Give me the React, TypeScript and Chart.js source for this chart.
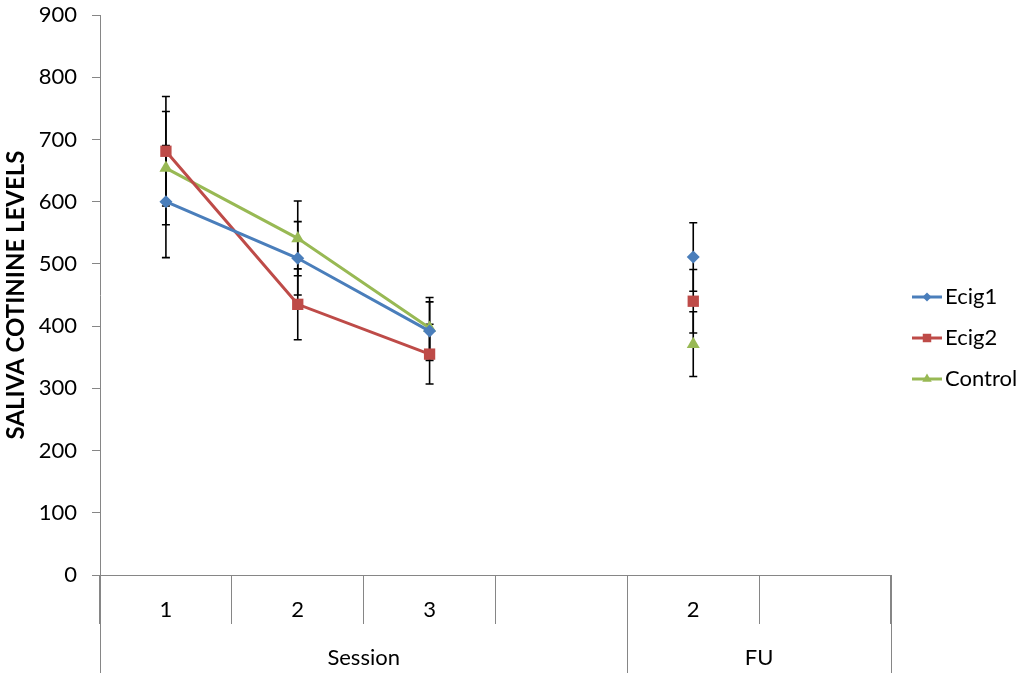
import { useEffect, useRef } from "react";
import { Chart, registerables } from "chart.js";
import { drawPoint } from "chart.js/helpers";

Chart.register(...registerables);

const CATEGORIES = ["1", "2", "3", "", "2", ""];
const GROUP_LABELS = ["Session", "FU"];
const GROUP_SIZES = [4, 2];

const SERIES = ["Ecig1", "Ecig2", "Control"];
const ECIG1 = [600, 509, 392, null, 511, null];
const ECIG2 = [681, 435, 355, null, 440, null];
const CONTROL = [654, 541, 397, null, 371, null];
const ECIG1_ERR = [90, 59, 47, null, 55, null];
const ECIG2_ERR = [88, 57, 48, null, 51, null];
const CONTROL_ERR = [91, 60, 49, null, 52, null];

const COLORS = ["#4A7EBB", "#BE4B48", "#98B954"];
const POINT_STYLES = ["rectRot", "rect", "triangle"] as const;
const POINT_RADII = [6.5, 8, 7.5];
const FONT = "Lato, 'Open Sans', sans-serif";
const AXIS_GREY = "#868686";

export default function App() {
  const canvasRef = useRef<HTMLCanvasElement>(null);
  const chartRef = useRef<Chart<"line"> | null>(null);

  useEffect(() => {
    document.body.style.margin = "0";
    if (!canvasRef.current) return;
    if (chartRef.current) chartRef.current.destroy();

    const values = [ECIG1, ECIG2, CONTROL];
    const errors = [ECIG1_ERR, ECIG2_ERR, CONTROL_ERR];

    chartRef.current = new Chart(canvasRef.current, {
      type: "line",
      data: {
        labels: CATEGORIES,
        datasets: SERIES.map((name, i) => ({
          label: name,
          data: values[i],
          borderColor: COLORS[i],
          backgroundColor: COLORS[i],
          borderWidth: 3,
          pointStyle: POINT_STYLES[i],
          pointRadius: POINT_RADII[i],
          pointBorderWidth: 0,
          pointBackgroundColor: COLORS[i],
          spanGaps: false,
          tension: 0,
        })),
      },
      options: {
        responsive: true,
        maintainAspectRatio: false,
        animation: false,
        layout: { padding: { top: 15, right: 133, left: 0, bottom: 0 } },
        plugins: {
          legend: { display: false },
          tooltip: { enabled: false },
        },
        scales: {
          x: {
            type: "category",
            offset: true,
            afterFit: (s: any) => {
              s.height = 104;
              s.paddingLeft = 0;
              s.paddingRight = 0;
            },
            grid: {
              offset: true,
              drawOnChartArea: false,
              tickLength: 49,
              color: AXIS_GREY,
              lineWidth: 1,
            },
            border: { display: true, color: AXIS_GREY, width: 1 },
            ticks: {
              padding: -27,
              color: "#000",
              font: { family: FONT, size: 22 },
              maxRotation: 0,
            },
          },
          y: {
            min: 0,
            max: 900,
            afterFit: (s: any) => {
              s.width = 100;
              s.paddingTop = 0;
              s.paddingBottom = 0;
            },
            grid: {
              drawOnChartArea: false,
              tickLength: 8,
              color: AXIS_GREY,
            },
            border: { display: true, color: AXIS_GREY, width: 1 },
            ticks: {
              stepSize: 100,
              padding: 15,
              color: "#000",
              font: { family: FONT, size: 22 },
            },
            title: {
              display: true,
              text: "SALIVA COTININE LEVELS",
              color: "#000",
              font: { family: FONT, size: 24, weight: "bold" },
              padding: { top: 2, bottom: 0 },
            },
          },
        },
      },
      plugins: [
        {
          id: "errorBars",
          beforeDatasetsDraw(chart) {
            const { ctx } = chart;
            const yScale = chart.scales.y;
            ctx.save();
            ctx.strokeStyle = "#000";
            ctx.lineWidth = 1.6;
            errors.forEach((errs, i) => {
              const meta = chart.getDatasetMeta(i);
              errs.forEach((e, j) => {
                const v = values[i][j];
                if (v == null || e == null) return;
                const x = meta.data[j].x;
                const yt = yScale.getPixelForValue(v + e);
                const yb = yScale.getPixelForValue(v - e);
                ctx.beginPath();
                ctx.moveTo(x, yt);
                ctx.lineTo(x, yb);
                ctx.moveTo(x - 4, yt);
                ctx.lineTo(x + 4, yt);
                ctx.moveTo(x - 4, yb);
                ctx.lineTo(x + 4, yb);
                ctx.stroke();
              });
            });
            ctx.restore();
          },
        },
        {
          id: "groupAxis",
          afterDraw(chart) {
            const { ctx, chartArea } = chart;
            const xScale = chart.scales.x;
            const half = (xScale.getPixelForValue(1) - xScale.getPixelForValue(0)) / 2;
            const bottom = chartArea.bottom;
            ctx.save();
            ctx.strokeStyle = AXIS_GREY;
            ctx.lineWidth = 1;
            ctx.fillStyle = "#000";
            ctx.font = `22px ${FONT}`;
            ctx.textAlign = "center";
            ctx.textBaseline = "middle";
            let start = 0;
            const edges: number[] = [xScale.getPixelForValue(0) - half];
            GROUP_SIZES.forEach((size, g) => {
              const left = xScale.getPixelForValue(start) - half;
              const right = xScale.getPixelForValue(start + size - 1) + half;
              edges.push(right);
              ctx.fillText(GROUP_LABELS[g], (left + right) / 2, bottom + 83);
              start += size;
            });
            edges.forEach((ex) => {
              const px = Math.round(ex) + 0.5;
              ctx.beginPath();
              ctx.moveTo(px, bottom);
              ctx.lineTo(px, bottom + 98);
              ctx.stroke();
            });

            // legend
            const lx = chartArea.right + 21;
            const ly = 297;
            SERIES.forEach((name, i) => {
              const y = ly + i * 41;
              ctx.strokeStyle = COLORS[i];
              ctx.lineWidth = 3;
              ctx.beginPath();
              ctx.moveTo(lx, y);
              ctx.lineTo(lx + 30, y);
              ctx.stroke();
              ctx.fillStyle = COLORS[i];
              drawPoint(ctx, { pointStyle: POINT_STYLES[i], radius: POINT_RADII[i] - 2, rotation: 0, borderWidth: 0 }, lx + 15, y);
              ctx.fillStyle = "#000";
              ctx.textAlign = "left";
              ctx.fillText(name, lx + 33, y);
            });
            ctx.restore();
          },
        },
      ],
    });

    return () => {
      if (chartRef.current) {
        chartRef.current.destroy();
        chartRef.current = null;
      }
    };
  }, []);

  return (
    <div style={{ position: "relative", width: 1024, height: 679 }}>
      <canvas ref={canvasRef} />
    </div>
  );
}
